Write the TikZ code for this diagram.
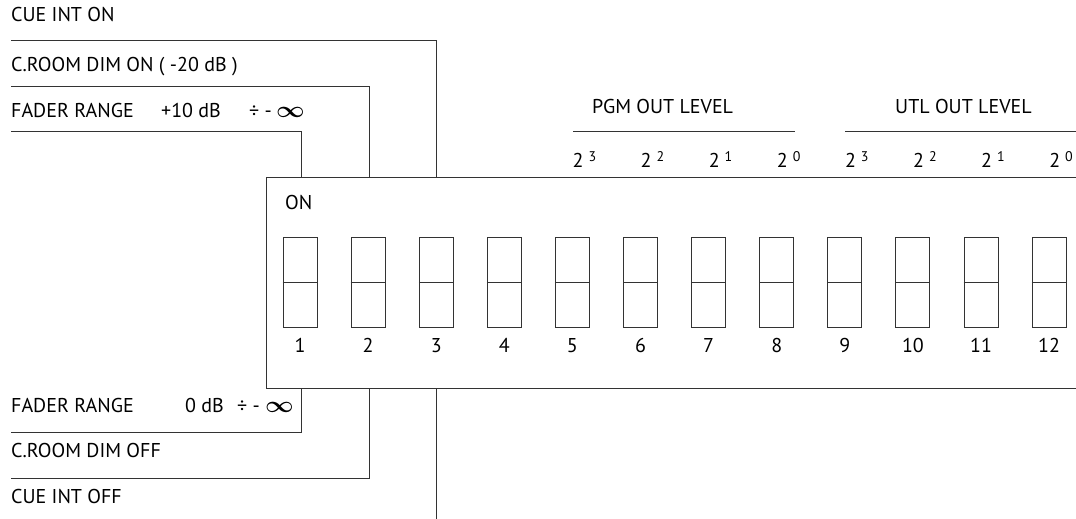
\documentclass[tikz,border=0pt]{standalone}
\usepackage{fontspec}
\setmainfont{PT Sans}
\newcommand\myinf{\scalebox{1.2}[1.1]{\boldmath$\infty$}}
\begin{document}
\begin{tikzpicture}[x=1pt,y=-1pt,
  ln/.style={draw=black!80,line width=0.9pt},
  lbl/.style={anchor=base west,inner sep=0pt,font=\fontsize{20}{24}\selectfont},
  num/.style={anchor=base,inner sep=0pt,font=\fontsize{20}{24}\selectfont},
  sw/.style={draw=black!80,line width=0.9pt,minimum width=34pt,minimum height=90pt,inner sep=0pt}]
\useasboundingbox (0,0) rectangle (1076,519);
% body of the switch block
\draw[ln] (1080,177) -- (266,177) -- (266,388) -- (1080,388);
\node[lbl] (on) at (285,209) {ON};
% switches
\foreach \i in {1,...,12}{
  \pgfmathsetmacro{\cx}{300+(\i-1)*68.1}
  \node[sw] (sw\i) at (\cx,282) {};
  \draw[ln] (sw\i.west) -- (sw\i.east);
  \node[num] (n\i) at (\cx,352) {\i};
}
% top labels
\node[lbl] (cueon) at (11,22) {CUE INT ON};
\node[lbl] (dimon) at (11,72) {C.ROOM DIM ON ( -20 dB )};
\node[lbl] (fron) at (11,117) {FADER RANGE};
\node[lbl] (fronv) at (161,117) {+10 dB};
\node[lbl] (fronx) at (249,117) {÷ -};
\node[lbl] (froni) at (276,117) {\myinf};
% bottom labels
\node[lbl] (froff) at (11,412) {FADER RANGE};
\node[lbl] (froffv) at (185,412) {0 dB};
\node[lbl] (froffx) at (237,412) {÷ -};
\node[lbl] (froffi) at (265,412) {\myinf};
\node[lbl] (dimoff) at (11,457) {C.ROOM DIM OFF};
\node[lbl] (cueoff) at (11,503) {CUE INT OFF};
% connector coordinates
\coordinate (a1) at (11,40);  \coordinate (a2) at (436,40);
\coordinate (b1) at (11,86);  \coordinate (b2) at (369,86);
\coordinate (c1) at (11,131); \coordinate (c2) at (301,131);
\coordinate (d1) at (11,432); \coordinate (d2) at (301,432);
\coordinate (e1) at (11,478); \coordinate (e2) at (369,478);
\coordinate (f2) at (436,519);
\coordinate (t1) at (301,177); \coordinate (t2) at (369,177); \coordinate (t3) at (436,177);
\coordinate (u1) at (301,388); \coordinate (u2) at (369,388); \coordinate (u3) at (436,388);
\draw[ln] (a1) -- (a2) -- (t3);
\draw[ln] (b1) -- (b2) -- (t2);
\draw[ln] (c1) -- (c2) -- (t1);
\draw[ln] (d1) -- (d2) -- (u1);
\draw[ln] (e1) -- (e2) -- (u2);
\draw[ln] (f2) -- (u3);
% output level labels
\node[lbl] (pgm) at (592,113) {PGM OUT LEVEL};
\node[lbl] (utl) at (895,113) {UTL OUT LEVEL};
\coordinate (p1) at (573,131); \coordinate (p2) at (795,131);
\coordinate (q1) at (845,131); \coordinate (q2) at (1080,131);
\draw[ln] (p1) -- (p2);
\draw[ln] (q1) -- (q2);
\foreach \i/\e in {5/3,6/2,7/1,8/0,9/3,10/2,11/1,12/0}{
  \pgfmathsetmacro{\cx}{300+(\i-1)*68.1}
  \node[lbl] (pw\i) at (\cx,167) {2\hspace{5pt}\raisebox{6pt}{\fontsize{14}{16}\selectfont\e}};
}
\end{tikzpicture}
\end{document}
